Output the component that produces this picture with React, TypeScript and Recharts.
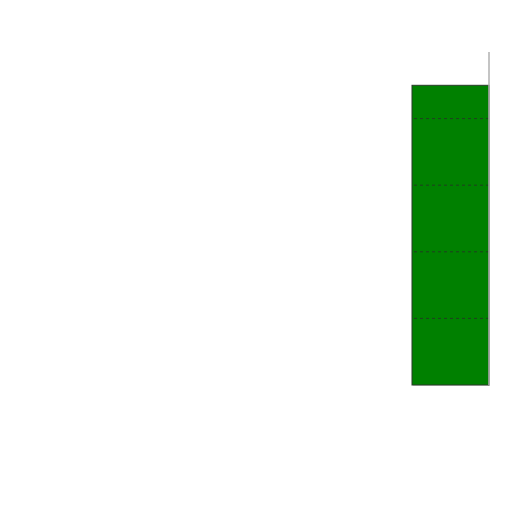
import React from "react";
import { BarChart, Bar, XAxis, YAxis } from "recharts";

const categories = ["A", "B", "C", "D", "E", "F"];
const values = [0, 0, 0, 0, 0, 4.5];
const yTicks = [0, 1, 2, 3, 4, 5];

const data = categories.map((c, i) => ({ name: c, value: values[i] }));

const BarWithGrid = (props: any) => {
  const { x, y, width, height, value } = props;
  const v = Array.isArray(value) ? value[1] - value[0] : value;
  if (!v || height <= 0) return null;
  const perUnit = height / v;
  const bottom = y + height;
  return (
    <g>
      <rect x={x + 1} y={y + 1} width={width} height={height} fill="#000" opacity={0.12} />
      <rect x={x} y={y} width={width} height={height} fill="#008000" stroke="#2b3b2b" strokeWidth={1} />
      {yTicks
        .filter((t) => t > 0 && t < v)
        .map((t) => (
          <line
            key={t}
            x1={x + 2}
            x2={x + width}
            y1={bottom - t * perUnit}
            y2={bottom - t * perUnit}
            stroke="#1f3f1f"
            strokeWidth={1}
            strokeDasharray="3 3"
          />
        ))}
    </g>
  );
};

export default function App() {
  return (
    <BarChart
      width={504}
      height={504}
      data={data}
      margin={{ top: 44, right: 22, bottom: 127, left: 19 }}
      barCategoryGap={0}
    >
      <XAxis dataKey="name" hide />
      <YAxis
        orientation="right"
        domain={[0, 5]}
        ticks={yTicks}
        width={1}
        tick={false}
        tickLine={false}
        axisLine={{ stroke: "#b0b0b0", strokeWidth: 1.5 }}
      />
      <Bar dataKey="value" isAnimationActive={false} shape={<BarWithGrid />} />
    </BarChart>
  );
}
